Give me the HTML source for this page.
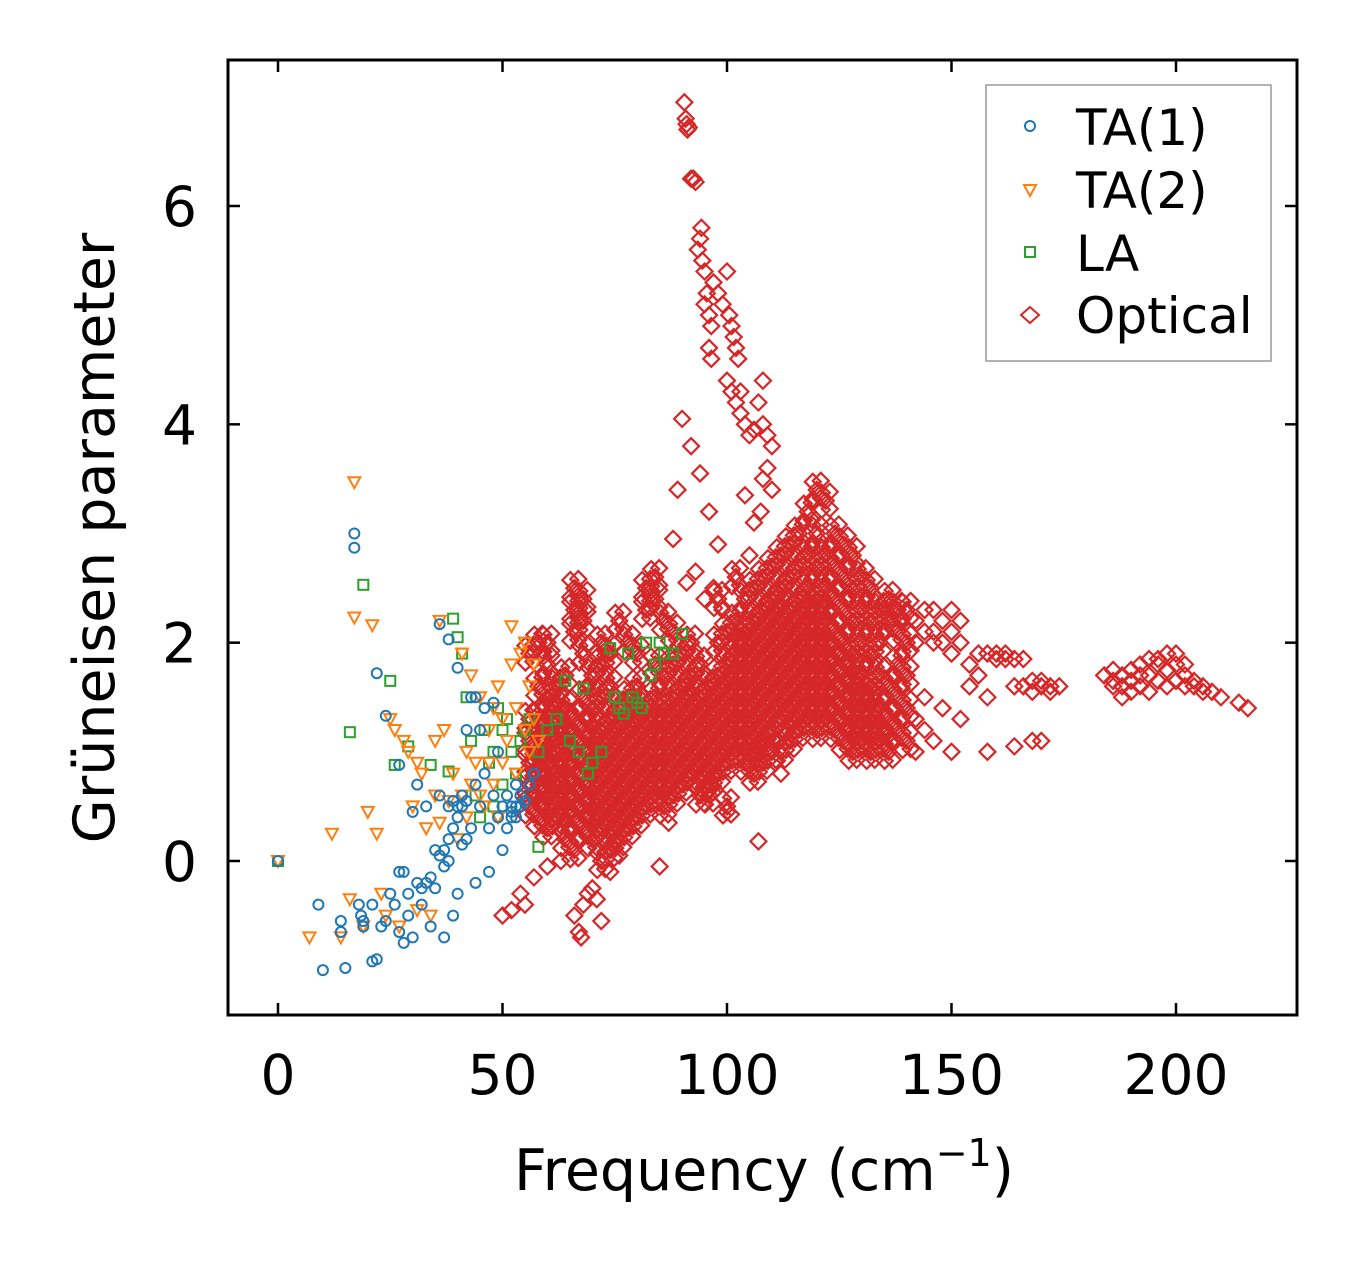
<!DOCTYPE html>
<html><head><meta charset="utf-8">
<style>
html,body{margin:0;padding:0;background:#fff;}
svg{display:block;font-family:"DejaVu Sans","Liberation Sans",sans-serif;}
</style></head>
<body>
<svg id="chart" width="1357" height="1264" viewBox="0 0 1357 1264" xmlns="http://www.w3.org/2000/svg">
<rect x="0" y="0" width="1357" height="1264" fill="#fff"/>
<g id="marks"></g>
<g id="axes"></g>
<text x="764" y="1190" font-size="57" text-anchor="middle">Frequency (cm<tspan font-size="38" dy="-24">−1</tspan><tspan dy="24">)</tspan></text>
<text transform="translate(114,538) rotate(-90)" font-size="57" text-anchor="middle">Grüneisen parameter</text>
<g>
<rect x="986" y="85" width="285" height="276" fill="#fff" stroke="#999" stroke-width="1.5"/>
<circle cx="1030" cy="126" r="5" fill="none" stroke="#1f77b4" stroke-width="2"/>
<text x="1076" y="145" font-size="50">TA(1)</text>
<polygon points="1024,185 1036,185 1030,196" fill="none" stroke="#ff7f0e" stroke-width="2"/>
<text x="1076" y="208" font-size="50">TA(2)</text>
<rect x="1025" y="247" width="10" height="10" fill="none" stroke="#2ca02c" stroke-width="2"/>
<text x="1076" y="271" font-size="50">LA</text>
<polygon points="1030,307 1039,315 1030,323 1021,315" fill="none" stroke="#d62728" stroke-width="2"/>
<text x="1076" y="333" font-size="50">Optical</text>
</g>
</svg>
<script>
const xTicks=[0,50,100,150,200];
const yTicks=[0,2,4,6];
const ta1=[[0,0],[9,-0.4],[10,-1.0],[14,-0.55],[14,-0.65],[15,-0.98],[17,3.0],[17,2.87],[18,-0.4],[18.5,-0.5],[19,-0.55],[19,-0.6],[21,-0.4],[21,-0.92],[22,1.72],[22,-0.9],[23,-0.6],[24,-0.55],[24,1.33],[25,-0.3],[26,-0.4],[27,-0.1],[27,-0.65],[27,0.88],[28,-0.75],[28,-0.1],[29,-0.3],[29,-0.5],[30,-0.7],[30,0.45],[31,-0.2],[31,0.7],[32,-0.4],[32,-0.25],[33,0.5],[33,-0.2],[34,-0.15],[34,-0.6],[35,0.1],[35,-0.25],[36,2.17],[36,0.05],[36,0.6],[37,-0.05],[37,-0.7],[38,2.03],[38,0.0],[38,0.5],[39,0.55],[39,-0.5],[40,0.5],[40,-0.3],[40,1.77],[41,0.6],[41,0.15],[42,1.2],[42,0.2],[43,1.5],[43,0.3],[44,1.5],[44,-0.2],[44,0.7],[45,1.2],[45,0.5],[46,1.4],[46,0.8],[47,0.3],[47,-0.1],[48,1.45],[48,0.6],[49,0.4],[49,1.0],[50,0.5],[50,0.1],[51,0.6],[51,0.3],[52,0.5],[52,0.4],[53,0.7],[53,0.4],[54,0.6],[54,0.5],[55,0.55],[56,0.7],[57,0.8],[37,0.1],[38,0.2],[39,0.3],[40,0.4],[41,0.5],[42,0.55],[52,0.45],[53,0.5]];
const ta2=[[0,0],[7,-0.7],[12,0.25],[14,-0.7],[16,-0.35],[17,3.47],[17,2.23],[19,-0.6],[20,0.45],[21,2.16],[22,0.25],[23,-0.3],[24,-0.5],[25,1.3],[26,1.2],[27,-0.6],[28,1.1],[29,1.0],[30,0.5],[31,-0.45],[31,0.9],[32,0.8],[33,0.3],[34,-0.5],[35,0.6],[35,1.1],[36,2.2],[36,0.35],[37,1.2],[38,0.55],[39,0.8],[40,0.2],[41,1.9],[41,0.6],[42,1.0],[42,0.4],[43,0.7],[43,1.7],[44,0.9],[45,1.5],[45,0.6],[46,0.5],[47,0.9],[47,1.2],[48,1.4],[48,0.7],[49,1.6],[49,0.4],[50,1.3],[50,0.9],[51,1.1],[52,2.15],[52,1.8],[53,1.4],[53,0.8],[54,1.9],[55,2.0],[55,1.2],[56,1.6],[56,1.0],[57,1.8],[57,1.3],[58,1.1]];
const la=[[0,0],[16,1.18],[19,2.53],[25,1.65],[26,0.88],[29,1.05],[34,0.88],[38,0.82],[39,2.22],[40,2.05],[41,1.9],[42,1.5],[43,1.1],[44,0.6],[45,0.4],[46,1.2],[47,0.9],[48,1.0],[49,1.4],[50,1.2],[51,1.3],[52,1.0],[53,0.8],[54,1.1],[55,1.2],[56,1.3],[58,1.0],[58,0.13],[60,1.2],[62,1.3],[64,1.65],[65,1.1],[67,1.0],[68,1.58],[69,0.8],[70,0.9],[72,1.0],[74,1.95],[75,1.5],[76,1.4],[77,1.35],[78,1.9],[79,1.5],[80,1.45],[81,1.4],[82,2.0],[83,1.7],[84,1.8],[85,2.0],[86,1.9],[88,1.9],[90,2.08],[50,0.7],[48,0.5]];
const opticalFreq=[56,58,60,62,64,66,68,70,72,74,76,78,80,82,84,86,88,90,92,94,96,98,100,102,104,106,108,110,112,114,116,118,120,122,124,126,128,130,132,134,136,138,140,142,144,146,148,150,152,154,156,158,160,162,164,166,168,170,172,174,184,186,188,190,192,194,196,198,200,202,204,206,208,210,214,216];
const opticalGamma=[
[0.5,0.9,1.3,1.9,0.7,1.1],[0.4,0.7,1.0,1.3,1.6,2.0,0.55,0.85,1.15],[0.3,0.6,0.9,1.2,1.5,1.8,2.0,0.45,0.75,1.05,1.35],[0.4,0.7,1.0,1.3,1.1,0.8,1.6,0.55,1.45],[0.2,0.5,0.8,1.1,1.4,1.7,0.35,0.65,0.95,1.25],[0.1,0.4,0.7,1.0,1.3,2.5,2.3,2.1,0.55,0.85,1.15],[0.3,0.6,0.9,1.2,1.5,2.4,2.2,1.9,0.45,0.75,1.05],[0.2,0.5,0.8,1.1,1.4,1.7,0.35,0.65,0.95,1.25],[0.0,0.3,0.6,0.9,1.2,1.5,1.8,2.0,0.45,0.75,1.05],[0.1,0.4,0.7,1.0,1.3,1.6,1.9,0.25,0.55,0.85,1.15],[0.2,0.5,0.8,1.1,1.4,2.2,0.35,0.65,0.95,1.25],[0.3,0.6,0.9,1.2,1.5,2.0,0.45,0.75,1.05,1.35],[0.4,0.7,1.0,1.3,1.6,1.9,0.55,0.85,1.15,1.45],[0.5,0.8,1.1,1.4,2.3,2.5,0.65,0.95,1.25],[0.6,0.9,1.2,1.5,1.8,2.6,2.4,0.75,1.05,1.35],[0.5,0.8,1.1,1.4,1.7,2.2,0.65,0.95,1.25],[0.6,0.9,1.2,1.5,1.8,2.1,0.75,1.05,1.35],[0.7,1.0,1.3,1.6,1.9,0.85,1.15,1.45],[0.8,1.1,1.4,1.7,2.0,0.95,1.25,1.55],[0.6,0.9,1.2,1.5,1.8,0.75,1.05,1.35],[0.7,1.0,1.3,1.6,0.6,0.85,1.15,1.45],[0.8,1.1,1.4,1.7,2.0,2.4,0.95,1.25,1.55],[0.9,1.2,1.5,1.8,2.1,0.5,1.05,1.35,1.65],[1.0,1.3,1.6,1.9,2.2,2.6,1.15,1.45,1.75,2.05],[0.9,1.2,1.5,1.8,2.1,2.4,1.05,1.35,1.65,1.95],[1.0,1.3,1.6,1.9,2.2,2.5,0.8,1.15,1.45,1.75,2.05],[1.1,1.4,1.7,2.0,2.3,2.6,0.9,1.25,1.55,1.85,2.15],[1.2,1.5,1.8,2.1,2.4,2.7,1.0,1.35,1.65,1.95,2.25],[1.3,1.6,1.9,2.2,2.5,2.8,1.0,1.45,1.75,2.05,2.35],[1.1,1.4,1.7,2.0,2.3,2.6,2.9,1.25,1.55,1.85,2.15],[1.2,1.5,1.8,2.1,2.4,2.7,3.0,1.35,1.65,1.95,2.25],[1.3,1.6,1.9,2.2,2.5,2.8,3.2,1.45,1.75,2.05,2.35],[1.2,1.5,1.8,2.1,2.4,2.7,3.0,3.4,1.35,1.65,1.95,2.25],[1.3,1.6,1.9,2.2,2.5,2.8,3.3,1.45,1.75,2.05,2.35],[1.2,1.5,1.8,2.1,2.4,2.7,3.0,1.35,1.65,1.95],[1.1,1.4,1.7,2.0,2.3,2.6,2.9,1.25,1.55,1.85],[1.0,1.3,1.6,1.9,2.2,2.5,2.8,1.15,1.45,1.75],[1.1,1.4,1.7,2.0,2.3,2.6,1.25,1.55],[1.0,1.3,1.6,1.9,2.2,2.5,1.15,1.45],[1.1,1.4,1.7,2.0,2.3,1.25],[1.0,1.3,1.6,2.2,2.4,1.15],[1.2,1.5,1.8,2.1,2.3],[1.1,1.4,1.7,2.0,2.3],[1.0,1.3,2.2,2.0],[1.2,1.5,2.3,2.1],[1.1,2.3,2.1,2.0],[1.4,2.2,2.0],[1.0,2.3,2.1,1.9],[1.3,2.2,2.0],[1.8,1.6],[1.9,1.7],[1.9,1.5,1.0],[1.9,1.85],[1.9,1.85],[1.85,1.6,1.05],[1.85,1.6],[1.65,1.55,1.1],[1.65,1.6,1.1],[1.6,1.55],[1.6],[1.7],[1.65,1.75,1.6],[1.7,1.6,1.5],[1.75,1.65,1.55],[1.8,1.7,1.6],[1.85,1.7,1.55],[1.85,1.8,1.65],[1.9,1.75,1.6],[1.9,1.8,1.65],[1.8,1.7,1.6],[1.65,1.6],[1.6,1.55],[1.55],[1.5],[1.45],[1.4]];
const opticalExtra=[[90.5,6.95],[90.8,6.8],[91,6.75],[91.2,6.7],[91.5,6.72],[92,6.25],[92.5,6.25],[93,6.22],[93.5,5.6],[94,5.7],[94.3,5.8],[94.5,5.5],[95,5.4],[95.5,5.2],[95,5.1],[96,5.0],[96.5,4.9],[96,4.7],[96.5,4.6],[97,5.3],[98,5.2],[99,5.1],[100,5.4],[100.5,5.0],[101,4.9],[101.5,4.8],[102,4.7],[102.5,4.6],[100,4.4],[101,4.3],[102,4.2],[103,4.3],[103,4.1],[104,4.0],[105,3.9],[106,3.95],[107,4.2],[108,4.4],[108,4.0],[109,3.9],[110,3.8],[109,3.6],[107.5,3.2],[108,3.5],[90,4.05],[92,3.8],[94,3.55],[89,3.4],[96,3.2],[98,2.9],[88,2.95],[91,2.55],[93,2.65],[95,2.4],[97,2.5],[99,2.3],[104,3.35],[106,3.1],[110,3.4],[105,2.8],[102,2.6],[66,-0.5],[67,-0.65],[67.5,-0.7],[68,-0.4],[69,-0.3],[70,-0.25],[71,-0.35],[72,-0.55],[74,-0.1],[55,-0.4],[52,-0.45],[50,-0.5],[54,-0.3],[57,-0.15],[60,-0.05],[63,0.0],[76,0.05],[85,-0.05],[100,0.45],[107,0.18],[112,0.8],[87,0.35]];

const X0=228,X1=1297,Y0=60,Y1=1015;
function sx(v){return 278+v*(1176-278)/200;}
function sy(v){return 861-v*(861-206)/6;}
const NS="http://www.w3.org/2000/svg";
const marks=document.getElementById('marks');
const axes=document.getElementById('axes');
function mk(tag,attrs,parent){const e=document.createElementNS(NS,tag);for(const k in attrs)e.setAttribute(k,attrs[k]);parent.appendChild(e);return e;}

function diamond(x,y,dense){
  const px=sx(x),py=sy(y);
  const offs=dense?[[0,0],[-4,-8],[4,8],[4,-9],[-4,9]]:[[0,0]];
  offs.forEach(o=>{
    const cx=px+o[0],cy=py+o[1];
    const e=mk('polygon',{points:`${cx},${cy-8} ${cx+8},${cy} ${cx},${cy+8} ${cx-8},${cy}`,fill:'none',stroke:'#d62728','stroke-width':2.2},marks);
    
    
  });
}
opticalFreq.forEach((f,i)=>opticalGamma[i].forEach(g=>diamond(f,g,opticalGamma[i].length>=5)));
opticalExtra.forEach(p=>diamond(p[0],p[1],false));
la.forEach(p=>{
  const e=mk('rect',{x:sx(p[0])-5,y:sy(p[1])-5,width:10,height:10,fill:'none',stroke:'#2ca02c','stroke-width':2},marks);
  
  
});
ta2.forEach(p=>{
  const px=sx(p[0]),py=sy(p[1]);
  const e=mk('polygon',{points:`${px-6},${py-5} ${px+6},${py-5} ${px},${py+6}`,fill:'none',stroke:'#ff7f0e','stroke-width':2},marks);
  
  
});
ta1.forEach(p=>{
  const e=mk('circle',{cx:sx(p[0]),cy:sy(p[1]),r:5,fill:'none',stroke:'#1f77b4','stroke-width':2},marks);
  
  
});

const fr=mk('rect',{x:X0,y:Y0,width:X1-X0,height:Y1-Y0,fill:'none',stroke:'#000','stroke-width':3},axes);


xTicks.forEach(t=>{
  const x=sx(t);
  mk('line',{x1:x,y1:Y1,x2:x,y2:Y1-12,stroke:'#000','stroke-width':2.5},axes);
  mk('line',{x1:x,y1:Y0,x2:x,y2:Y0+12,stroke:'#000','stroke-width':2.5},axes);
  const tx=mk('text',{x:x,y:1094,'font-size':55,'text-anchor':'middle'},axes);
  tx.textContent=t;
  
  
});
yTicks.forEach(t=>{
  const y=sy(t);
  mk('line',{x1:X0,y1:y,x2:X0+12,y2:y,stroke:'#000','stroke-width':2.5},axes);
  mk('line',{x1:X1,y1:y,x2:X1-12,y2:y,stroke:'#000','stroke-width':2.5},axes);
  const tx=mk('text',{x:197,y:y+20,'font-size':55,'text-anchor':'end'},axes);
  tx.textContent=t;
  
  
});
</script>
</body></html>
